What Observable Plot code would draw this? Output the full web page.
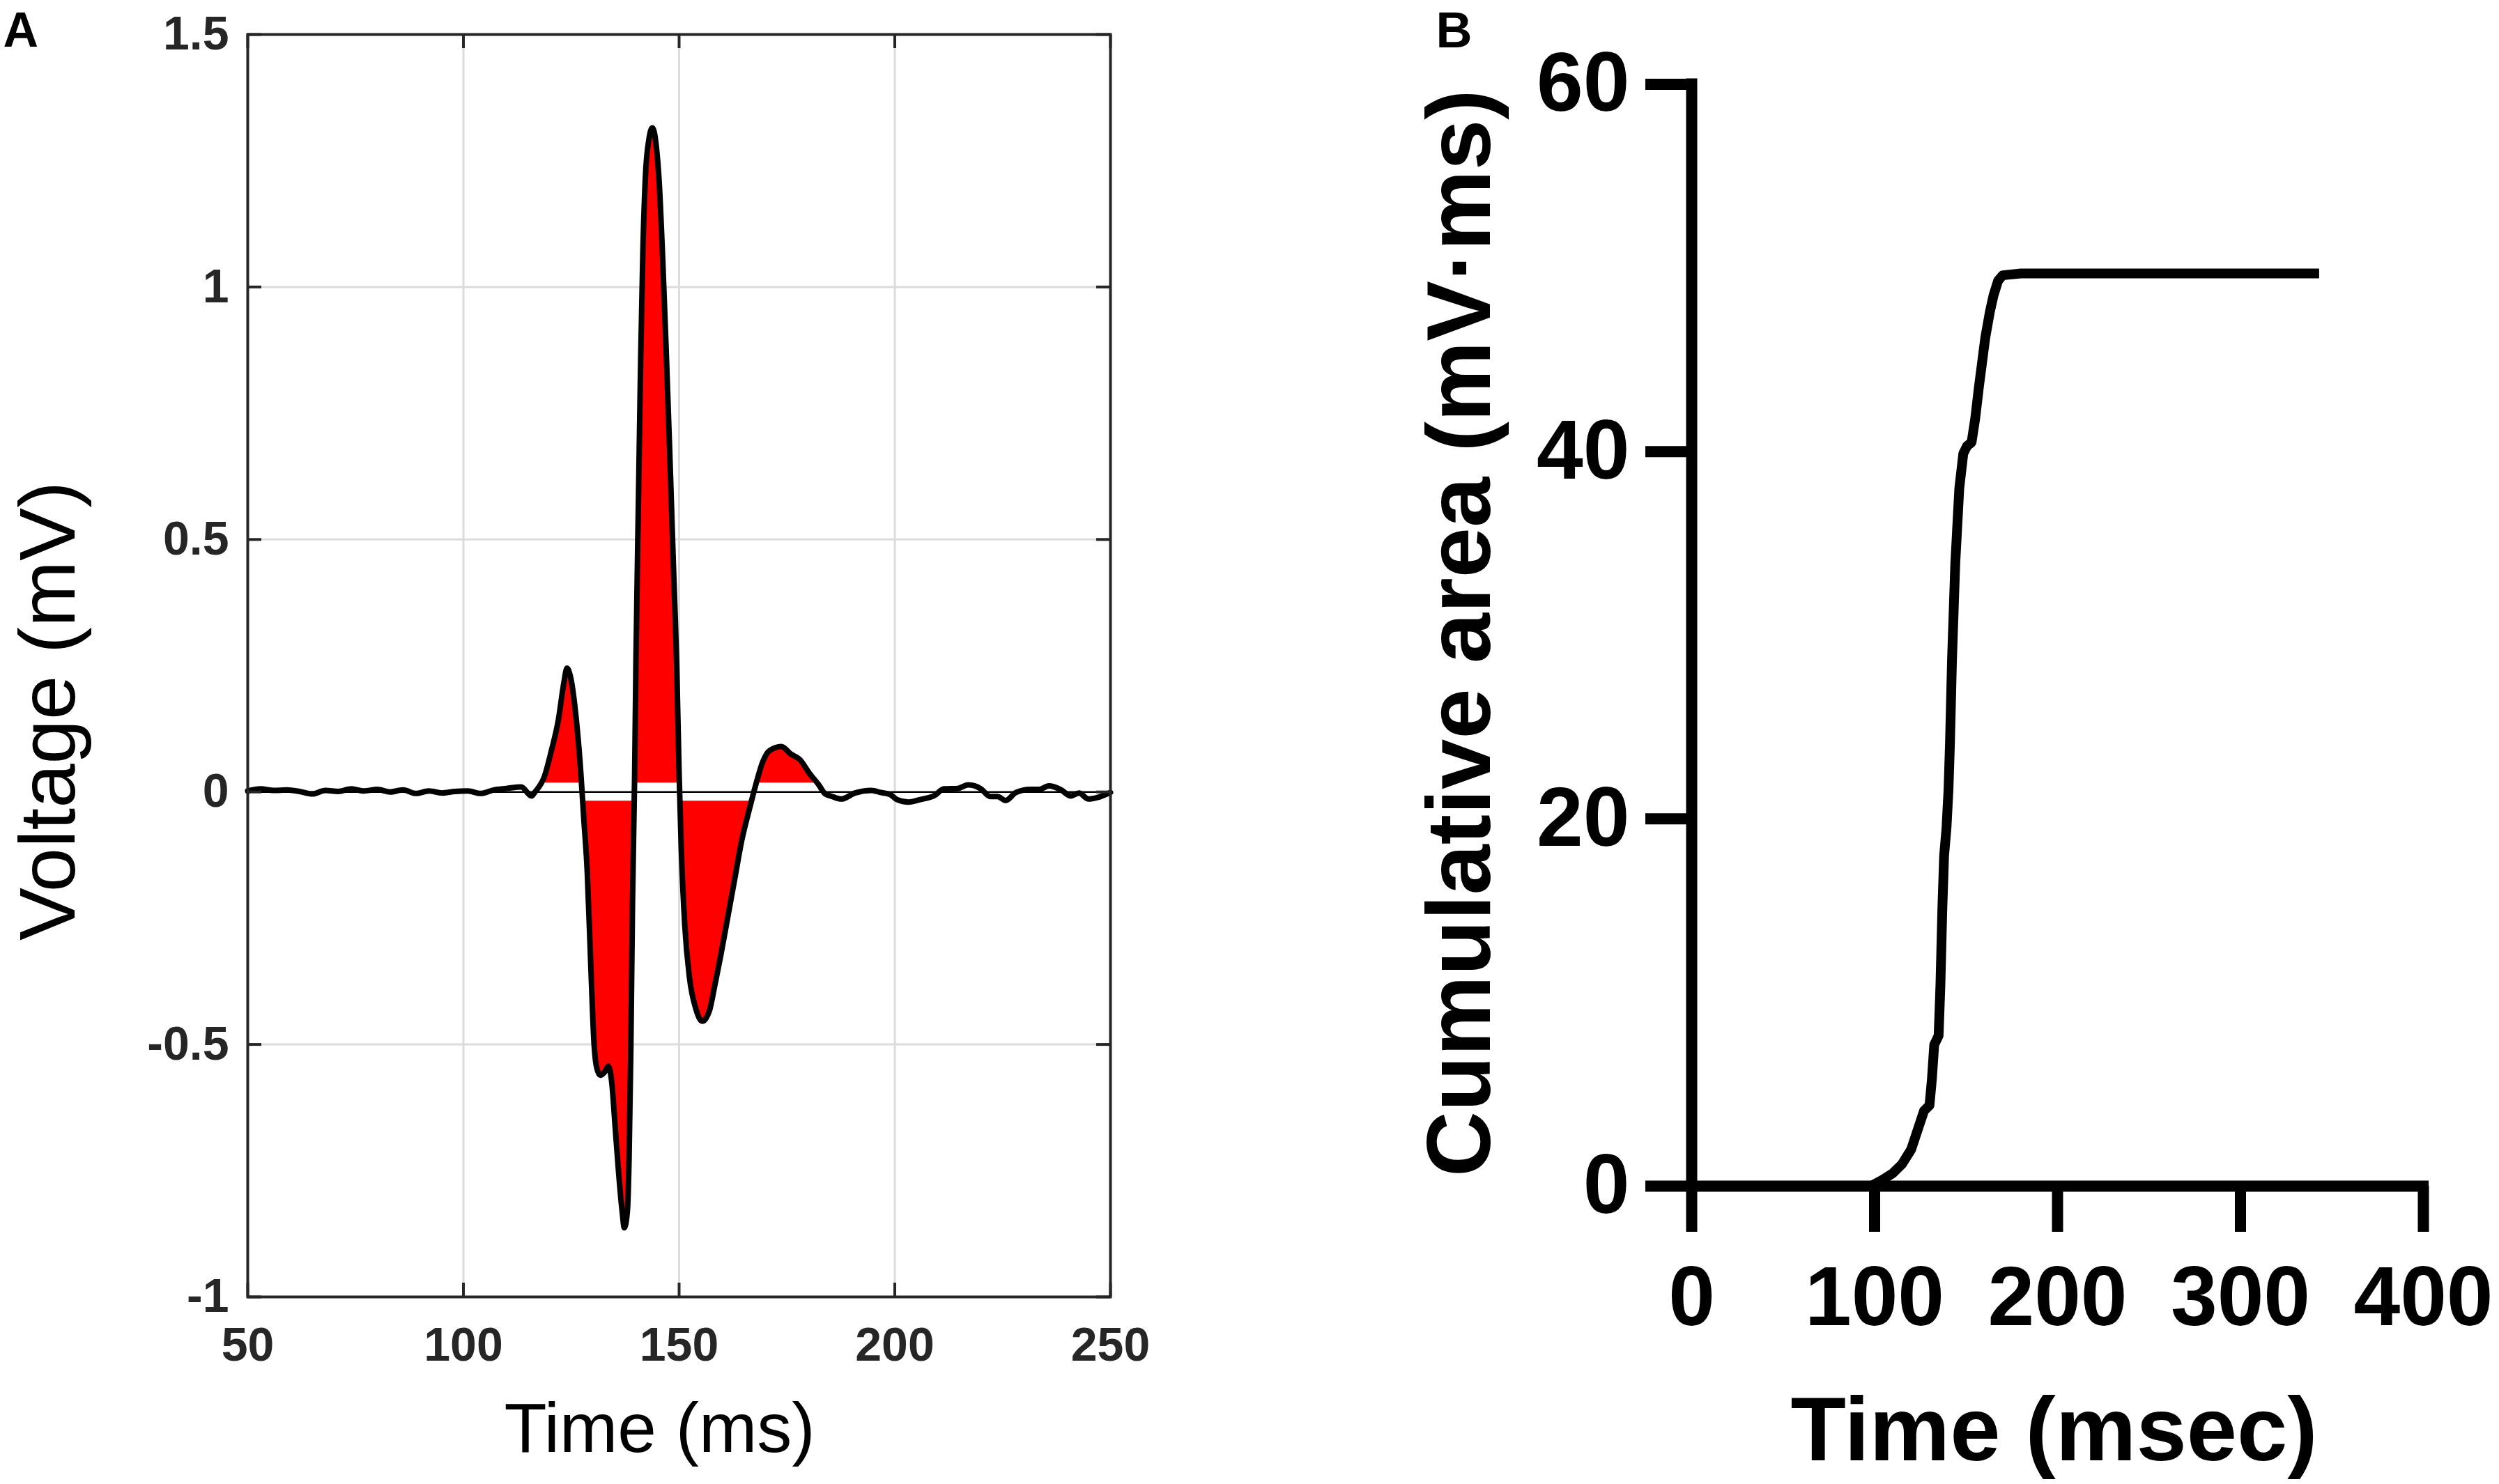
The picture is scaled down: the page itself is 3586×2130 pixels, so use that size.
<!DOCTYPE html>
<html>
<head>
<meta charset="utf-8">
<script src="https://cdn.jsdelivr.net/npm/d3@7"></script>
<script src="https://cdn.jsdelivr.net/npm/@observablehq/plot@0.6"></script>
<style>
  html, body { margin: 0; padding: 0; background: #ffffff; }
  #wrap { position: relative; width: 3586px; height: 2130px; background: #ffffff; overflow: hidden; }
  #panelA { position: absolute; left: 0; top: 0; width: 1800px; height: 2130px; }
  #panelB { position: absolute; left: 1800px; top: 0; width: 1786px; height: 2130px; }
</style>
</head>
<body>
<div id="wrap"><div id="panelA"></div><div id="panelB"></div></div>
<script>
// ---------- Panel A: signal-averaged waveform ----------
const timeA = [
  50, 53, 56, 59, 62, 65, 68, 71, 74, 77,
  80, 83, 86, 89, 92, 95, 98, 101, 104, 107,
  110, 113.4, 115.8, 116.6, 118.75, 120.4, 122, 123.3, 124, 124.9,
  126, 127.1, 127.9, 128.7, 129.5, 130.3, 130.9, 131.7, 132.8, 133.6,
  134.4, 135.2, 136, 136.8, 137.3, 138, 138.4, 138.8, 139.2, 139.7,
  140, 140.6, 141.1, 141.6, 142.2, 143, 143.8, 144.6, 145.4, 146.2,
  147, 147.8, 148.6, 149.5, 150, 150.5, 151.3, 152.4, 153.8, 155.4,
  157, 158.3, 159.7, 161.3, 162.9, 164.5, 166.2, 167.8, 169.4, 171,
  173.7, 175.9, 178, 180.2, 182.3, 183.9, 185.5, 187.6, 190.8, 194.6,
  196.7, 198.9, 200.5, 203.2, 205.9, 209.2, 211.4, 214.6, 217, 220,
  222.1, 223.8, 225.7, 228.1, 231.4, 233.5, 235.7, 238.4, 240.8, 242.7,
  244.9, 247, 250
];
const voltageA = [
  0.002, 0.006, 0.003, 0.004, 0.001, -0.004, 0.003, 0.001, 0.006, 0.002,
  0.005, 0.000, 0.004, -0.003, 0.002, -0.002, 0.001, 0.002, -0.003, 0.004,
  0.007, 0.010, -0.008, 0.000, 0.030, 0.082, 0.142, 0.217, 0.245, 0.225,
  0.157, 0.052, -0.052, -0.157, -0.337, -0.501, -0.546, -0.561, -0.554, -0.543,
  -0.576, -0.666, -0.756, -0.831, -0.863, -0.831, -0.726, -0.516, -0.217, 0.037,
  0.262, 0.591, 0.861, 1.070, 1.220, 1.292, 1.315, 1.287, 1.205, 1.055,
  0.876, 0.680, 0.470, 0.231, 0.037, -0.112, -0.262, -0.367, -0.427, -0.454,
  -0.434, -0.382, -0.322, -0.247, -0.172, -0.097, -0.037, 0.015, 0.060, 0.082,
  0.090, 0.075, 0.064, 0.037, 0.015, -0.004, -0.009, -0.014, -0.002, 0.003,
  -0.001, -0.005, -0.015, -0.020, -0.015, -0.007, 0.006, 0.007, 0.014, 0.006,
  -0.009, -0.009, -0.017, -0.001, 0.005, 0.005, 0.012, 0.005, -0.008, -0.002,
  -0.014, -0.011, -0.001
];
const xTicksA = [50, 100, 150, 200, 250];
const yTicksA = [-1, -0.5, 0, 0.5, 1, 1.5];
const fillGap = 0.018; // white gap between red fill and zero line (mV)

// ---------- Panel B: cumulative area ----------
const timeB = [
  0, 98, 104, 110, 115, 120, 124, 127, 130, 131.3,
  132.6, 135, 136, 137, 138, 139.3, 140.4, 141.2, 142.3, 144.1,
  146.3, 148.5, 150.5, 153, 155, 157, 160.5, 163, 165, 167.5,
  170, 180, 343
];
const areaB = [
  0, 0, 0.33, 0.71, 1.2, 2.0, 3.2, 4.1, 4.4, 5.8,
  7.7, 8.2, 11, 15, 18, 19.5, 21.6, 24.1, 28.6, 33.9,
  38.0, 39.9, 40.3, 40.5, 41.8, 43.5, 46.2, 47.6, 48.5, 49.3,
  49.6, 49.7, 49.7
];
const xTicksB = [0, 100, 200, 300, 400];
const yTicksB = [0, 20, 40, 60];

const wave = timeA.map((t, i) => ({t, v: voltageA[i]}));
const cumulative = timeB.map((t, i) => ({t, v: areaB[i]}));

const font = "'Liberation Sans', Arial, Helvetica, sans-serif";

// Panel A geometry
const A = {width: 1800, height: 2130, ml: 355, mr: 207, mt: 49, mb: 269};
const frameWA = A.width - A.ml - A.mr;
const frameHA = A.height - A.mt - A.mb;
const tickLenA = 20;
const axisGrey = "#262626";
const gridGrey = "#dcdcdc";

const plotA = Plot.plot({
  width: A.width, height: A.height,
  marginLeft: A.ml, marginRight: A.mr, marginTop: A.mt, marginBottom: A.mb,
  x: {domain: [50, 250]},
  y: {domain: [-1, 1.5]},
  style: {fontFamily: font, background: "white", overflow: "visible"},
  marks: [
    Plot.gridY(yTicksA, {stroke: gridGrey, strokeOpacity: 1, strokeWidth: 3}),
    Plot.areaY(wave, {x: "t", y1: 0, y2: "v", fill: "#ff0000", curve: "monotone-x"}),
    Plot.areaY(wave, {x: "t", y1: -fillGap, y2: fillGap, fill: "white"}),
    Plot.gridX(xTicksA, {stroke: gridGrey, strokeOpacity: 1, strokeWidth: 3}),
    Plot.ruleY([0], {stroke: "black", strokeWidth: 2.5}),
    Plot.line(wave, {x: "t", y: "v", stroke: "black", strokeWidth: 8, curve: "monotone-x", strokeLinejoin: "round"}),
    Plot.frame({stroke: axisGrey, strokeWidth: 4}),
    Plot.tickX(xTicksA, {x: d => d, stroke: axisGrey, strokeWidth: 4, insetTop: frameHA - tickLenA}),
    Plot.tickX(xTicksA, {x: d => d, stroke: axisGrey, strokeWidth: 4, insetBottom: frameHA - tickLenA}),
    Plot.tickY(yTicksA, {y: d => d, stroke: axisGrey, strokeWidth: 4, insetRight: frameWA - tickLenA}),
    Plot.tickY(yTicksA, {y: d => d, stroke: axisGrey, strokeWidth: 4, insetLeft: frameWA - tickLenA}),
    Plot.axisX(xTicksA, {tickSize: 0, tickPadding: 43, fontSize: 68, fontWeight: "bold", fill: axisGrey, label: null, tickFormat: d => String(d)}),
    Plot.axisY(yTicksA, {tickSize: 0, tickPadding: 27, fontSize: 68, fontWeight: "bold", fill: axisGrey, label: null, tickFormat: d => String(d)}),
    Plot.text(["Time (ms)"], {frameAnchor: "bottom", text: d => d, dx: -28, dy: 222, lineAnchor: "bottom", textAnchor: "middle", fontSize: 100, fill: "black"}),
    Plot.text(["Voltage (mV)"], {frameAnchor: "left", text: d => d, rotate: -90, dx: -249, dy: 65, lineAnchor: "bottom", textAnchor: "middle", fontSize: 114, fill: "black"}),
    Plot.text(["A"], {frameAnchor: "top-left", text: d => d, dx: -351, dy: 17, lineAnchor: "bottom", textAnchor: "start", fontSize: 70, fontWeight: "bold", fill: "black"})
  ]
});
document.getElementById("panelA").appendChild(plotA);

// Panel B geometry
const B = {width: 1786, height: 2130, ml: 627, mr: 109, mt: 120.5, mb: 428};

const plotB = Plot.plot({
  width: B.width, height: B.height,
  marginLeft: B.ml, marginRight: B.mr, marginTop: B.mt, marginBottom: B.mb,
  x: {domain: [0, 400]},
  y: {domain: [0, 60]},
  style: {fontFamily: font, background: "white", overflow: "visible"},
  marks: [
    Plot.line(cumulative, {x: "t", y: "v", stroke: "black", strokeWidth: 14, strokeLinejoin: "round", strokeLinecap: "butt"}),
    Plot.ruleX([0], {stroke: "black", strokeWidth: 16, strokeLinecap: "square"}),
    Plot.ruleY([0], {stroke: "black", strokeWidth: 16, strokeLinecap: "square"}),
    Plot.axisX(xTicksB, {tickSize: 66, tickPadding: 48, strokeWidth: 16, stroke: "black", fontSize: 120, fontWeight: "bold", fill: "black", label: null, tickFormat: d => String(d)}),
    Plot.axisY(yTicksB, {tickSize: 66, tickPadding: 23, strokeWidth: 16, stroke: "black", fontSize: 120, fontWeight: "bold", fill: "black", label: null, tickFormat: d => String(d)}),
    Plot.text(["Time (msec)"], {frameAnchor: "bottom", text: d => d, dx: -5, dy: 393, lineAnchor: "bottom", textAnchor: "middle", fontSize: 130, fontWeight: "bold", fill: "black"}),
    Plot.text(["Cumulative area (mV·ms)"], {frameAnchor: "left", text: d => d, rotate: -90, dx: -290, dy: -3, lineAnchor: "bottom", textAnchor: "middle", fontSize: 130, fontWeight: "bold", fill: "black"}),
    Plot.text(["B"], {frameAnchor: "top-left", text: d => d, dx: -367, dy: -53, lineAnchor: "bottom", textAnchor: "start", fontSize: 72, fontWeight: "bold", fill: "black"})
  ]
});
document.getElementById("panelB").appendChild(plotB);
</script>
</body>
</html>
